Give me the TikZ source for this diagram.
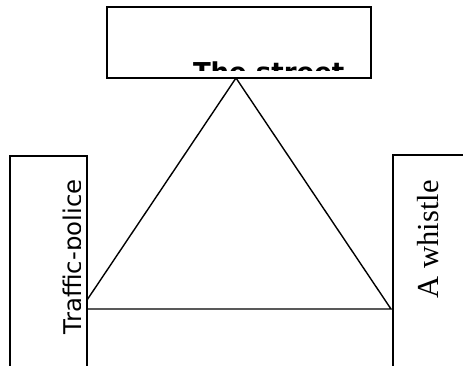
\documentclass[tikz,border=0pt]{standalone}
\usepackage{fontspec}
\newfontfamily\dvsans{DejaVu Sans}
\newfontfamily\libserif{Liberation Serif}
\begin{document}
\begin{tikzpicture}[x=1pt,y=-1pt,
  box/.style={draw=black,line width=1.3pt,fill=white,inner sep=0pt,outer sep=0pt},
  edge/.style={draw=black,line width=1.4pt},
  lbl/.style={inner sep=0pt,outer sep=0pt}]
\useasboundingbox (0,0) rectangle (463,366);
% triangle
\coordinate (apex) at (236,78);
\coordinate (lv) at (81,309);
\coordinate (rv) at (391,309);
\draw[edge] (apex) -- (lv) -- (rv) -- cycle;
% top box
\node[box,minimum width=264pt,minimum height=71pt,anchor=north west] (street) at (107,7) {};
\begin{scope}
\clip (108,8) rectangle (370,71);
\node[lbl,anchor=base west,font=\dvsans\bfseries\fontsize{26}{30}\selectfont] (streettxt) at (193,82) {The street};
\end{scope}
% left box
\node[box,minimum width=77pt,minimum height=220pt,anchor=north west] (police) at (10,156) {};
\begin{scope}
\clip (11,157) rectangle (80,366);
\node[lbl,rotate=90,anchor=base west,font=\dvsans\fontsize{24.4}{28}\selectfont] (policetxt) at (81,334) {Traffic-police};
\end{scope}
% right box
\node[box,minimum width=80pt,minimum height=220pt,anchor=north west] (whistle) at (393,155) {};
\node[lbl,rotate=90,anchor=base west,font=\libserif\fontsize{30.5}{34}\selectfont] (whistletxt) at (438,298) {A whistle};
\end{tikzpicture}
\end{document}
